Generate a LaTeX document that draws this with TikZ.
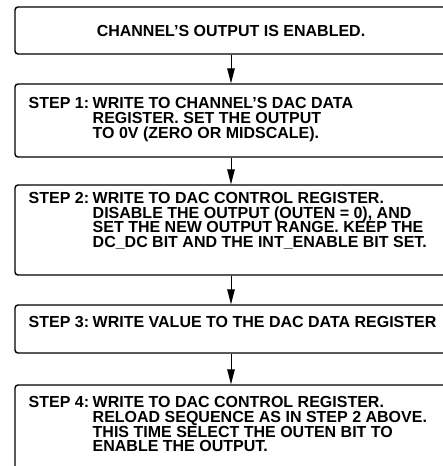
\documentclass[tikz,border=0pt]{standalone}
\usepackage{fontspec}
\setmainfont{Liberation Sans}
\usetikzlibrary{arrows.meta}
\newcommand{\stepblock}[2]{\makebox[64pt][l]{#1}\parbox[t]{370pt}{\raggedright\lineskiplimit=-20pt #2}}
\begin{document}
\begin{tikzpicture}[x=1pt,y=-1pt,
  box/.style={draw, line width=1.4pt, rounded corners=3pt, minimum width=432pt, inner sep=0pt},
  txtfont/.style={font=\fontsize{16}{14.7}\selectfont\bfseries},
  txt/.style={txtfont, inner sep=0pt, anchor=north west},
  arr/.style={line width=1pt, -{Triangle[length=15pt,width=7.5pt]}}]
\useasboundingbox (0,0) rectangle (442,466);
\node[box, txtfont, minimum height=47pt] (b0) at (231,30.5) {CHANNEL’S OUTPUT IS ENABLED.};
\node[box, minimum height=73pt] (b1) at (231,120.5) {};
\node[box, minimum height=90pt] (b2) at (231,230) {};
\node[box, minimum height=48pt] (b3) at (231,329) {};
\node[box, minimum height=105pt] (b4) at (231,437.5) {};
\node[txt] (t1) at (28.5,97.5) {\stepblock{STEP 1:}{WRITE TO CHANNEL’S DAC DATA\\REGISTER. SET THE OUTPUT\\TO 0V (ZERO OR MIDSCALE).}};
\node[txt] (t2) at (28.5,192) {\stepblock{STEP 2:}{WRITE TO DAC CONTROL REGISTER.\\DISABLE THE OUTPUT (OUTEN = 0), AND\\SET THE NEW OUTPUT RANGE. KEEP THE\\DC\_DC BIT AND THE INT\_ENABLE BIT SET.}};
\node[txt] (t3) at (28.5,316.5) {\stepblock{STEP 3:}{WRITE VALUE TO THE DAC DATA REGISTER}};
\node[txt] (t4) at (28.5,396.5) {\stepblock{STEP 4:}{WRITE TO DAC CONTROL REGISTER.\\RELOAD SEQUENCE AS IN STEP 2 ABOVE.\\THIS TIME SELECT THE OUTEN BIT TO\\ENABLE THE OUTPUT.}};
\draw[arr] (b0) -- (b1);
\draw[arr] (b1) -- (b2);
\draw[arr] (b2) -- (b3);
\draw[arr] (b3) -- (b4);
\end{tikzpicture}
\end{document}
